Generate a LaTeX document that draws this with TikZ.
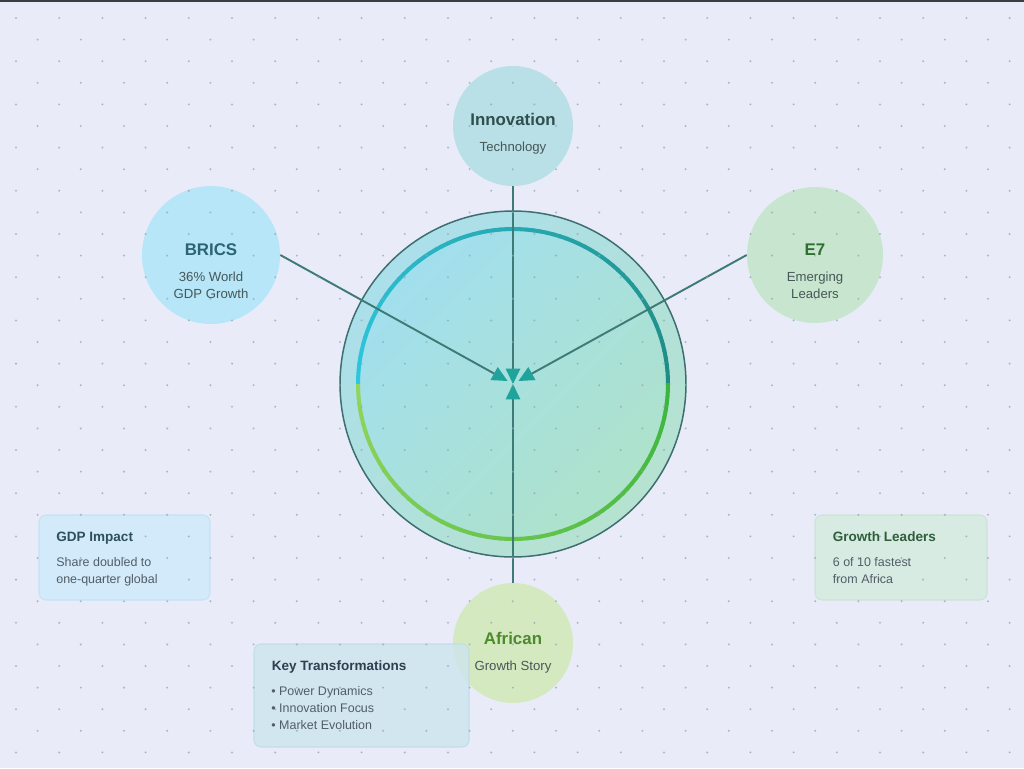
\documentclass[tikz,border=0pt]{standalone}
\usepackage{fontspec}
\setmainfont{Liberation Sans}
\usetikzlibrary{arrows.meta,calc}
\definecolor{bg}{HTML}{E9ECF8}
\definecolor{topline}{HTML}{3A3F44}
\definecolor{dotc}{HTML}{8FA6B6}
\definecolor{outA}{HTML}{ABDFEA}
\definecolor{outB}{HTML}{B6E2D0}
\definecolor{inA}{HTML}{A2DFEE}
\definecolor{inB}{HTML}{AEE2CB}
\definecolor{rimc}{HTML}{3D6E70}
\definecolor{ringUA}{HTML}{2EC7DF}
\definecolor{ringUB}{HTML}{1F8B84}
\definecolor{ringLA}{HTML}{92D55C}
\definecolor{ringLB}{HTML}{3BB53D}
\definecolor{connc}{HTML}{3E7A76}
\definecolor{tipc}{HTML}{1FA39A}
\definecolor{innovF}{HTML}{B9DFE7}
\definecolor{bricsF}{HTML}{B6E6F8}
\definecolor{eF}{HTML}{C8E6CF}
\definecolor{afrF}{HTML}{D5E9C0}
\definecolor{innovT}{HTML}{2F4F4F}
\definecolor{bricsT}{HTML}{2D6474}
\definecolor{eT}{HTML}{2F6F2F}
\definecolor{afrT}{HTML}{4C8A2C}
\definecolor{subT}{HTML}{465858}
\definecolor{gdpF}{HTML}{D3EAFA}
\definecolor{gdpD}{HTML}{C6E2F5}
\definecolor{grF}{HTML}{D7EBE3}
\definecolor{grD}{HTML}{CCE3D8}
\definecolor{keyF}{HTML}{CDE5EE}
\definecolor{keyD}{HTML}{C2DDE8}
\definecolor{gdpT}{HTML}{2F4F5F}
\definecolor{grT}{HTML}{2F5F3A}
\definecolor{keyT}{HTML}{2F3F4F}
\definecolor{bodyT}{HTML}{525E66}
\tikzset{
  sat/.style={circle, inner sep=0pt, draw=none},
  ctitle/.style={anchor=base, inner sep=0pt, font=\fontsize{9.6}{11}\selectfont\bfseries},
  csub/.style={anchor=base, inner sep=0pt, text=subT, font=\fontsize{7.5}{9.3}\selectfont},
  btitle/.style={anchor=base west, inner sep=0pt, font=\fontsize{7.7}{9}\selectfont\bfseries},
  bbody/.style={anchor=base west, inner sep=0pt, text=bodyT, font=\fontsize{7.1}{9.3}\selectfont},
  conn/.style={draw=connc, line width=1.1pt, -{Triangle[length=8.8pt,width=8.2pt,color=tipc]}},
  infobox/.style={rounded corners=4pt, line width=0.6pt}
}
\begin{document}
\begin{tikzpicture}[x=0.02cm,y=-0.02cm]
\useasboundingbox (0,0) rectangle (1024,768);
\fill[bg] (0,0) rectangle (1024,768);
\fill[topline] (0,0) rectangle (1024,1.5);

% central circle
\coordinate (c) at (513,384);
\shade[top color=outA, bottom color=outB, shading angle=45] (c) circle[radius=3.46cm];
\draw[rimc, line width=0.85pt] (c) circle[radius=3.46cm];
\shade[top color=inA, bottom color=inB, shading angle=45] (c) circle[radius=3.1cm];

% gradient ring (upper half: screen angles 180..360, lower half: 180..0)
\foreach \i in {0,...,71} {
  \pgfmathsetmacro\p{100-\i*100/71}
  \pgfmathsetmacro\aa{180+\i*2.5}
  \pgfmathsetmacro\ab{180+\i*2.5+2.8}
  \draw[draw=ringUA!\p!ringUB, line width=2.3pt] ($(c)+(\aa:155)$) -- ($(c)+(\ab:155)$);
  \pgfmathsetmacro\ba{180-\i*2.5}
  \pgfmathsetmacro\bb{180-\i*2.5-2.8}
  \draw[draw=ringLA!\p!ringLB, line width=2.3pt] ($(c)+(\ba:155)$) -- ($(c)+(\bb:155)$);
}

% satellites
\node[sat, fill=innovF, minimum size=2.4cm] (innov) at (513,126) {};
\node[sat, fill=bricsF, minimum size=2.76cm] (brics) at (211,255) {};
\node[sat, fill=eF, minimum size=2.72cm] (e7) at (815,255) {};
\node[sat, fill=afrF, minimum size=2.4cm] (afr) at (513,643) {};

% boxes
\draw[infobox, fill=gdpF, draw=gdpD] (39,515) rectangle (210,600);
\node[inner sep=0pt] (gdpbox) at (124.5,557.5) {};
\draw[infobox, fill=grF, draw=grD] (815,515) rectangle (987,600);
\node[inner sep=0pt] (grbox) at (901,557.5) {};
\draw[infobox, fill=keyF, draw=keyD, fill opacity=0.8] (254,644) rectangle (469,747);
\node[inner sep=0pt] (keybox) at (361.5,695.5) {};

% connectors
\draw[conn] (innov.south) -- (c);
\draw[conn] (afr.north) -- (c);
\draw[conn, shorten >=3.5pt] (brics.east) -- (c);
\draw[conn, shorten >=3.5pt] (e7.west) -- (c);

% dot grid
\foreach \k in {0,...,34} {
  \pgfmathsetmacro\yy{18+21.6*\k}
  \pgfmathsetmacro\xo{mod(\k,2)==0 ? 16 : 37.6}
  \foreach \j in {0,...,23} {
    \fill[dotc, opacity=0.7] (\xo+43.2*\j,\yy) circle[radius=0.65pt];
  }
}

% circle texts
\node[ctitle, text=innovT] (innovt) at (513,125.7) {Innovation};
\node[csub] (innovs) at (513,151.5) {Technology};
\node[ctitle, text=bricsT] (bricst) at (211,255) {BRICS};
\node[csub] (bricss1) at (211,281.5) {36\% World};
\node[csub] (bricss2) at (211,298) {GDP Growth};
\node[ctitle, text=eT] (e7t) at (815,255) {E7};
\node[csub] (e7s1) at (815,281.5) {Emerging};
\node[csub] (e7s2) at (815,298) {Leaders};
\node[ctitle, text=afrT] (afrt) at (513,644) {African};
\node[csub] (afrs) at (513,670) {Growth Story};

% box texts
\node[btitle, text=gdpT] (gdpt) at (56,541) {GDP Impact};
\node[bbody] (gdpb1) at (56,566.7) {Share doubled to};
\node[bbody] (gdpb2) at (56,583) {one-quarter global};
\node[btitle, text=grT] (grt) at (832.5,541) {Growth Leaders};
\node[bbody] (grb1) at (832.5,566.7) {6 of 10 fastest};
\node[bbody] (grb2) at (832.5,583) {from Africa};
\node[btitle, text=keyT] (keyt) at (271.5,670) {Key Transformations};
\node[bbody] (keyb1) at (271,695) {\textbullet\ Power Dynamics};
\node[bbody] (keyb2) at (271,712.3) {\textbullet\ Innovation Focus};
\node[bbody] (keyb3) at (271,729.3) {\textbullet\ Market Evolution};
\end{tikzpicture}
\end{document}
